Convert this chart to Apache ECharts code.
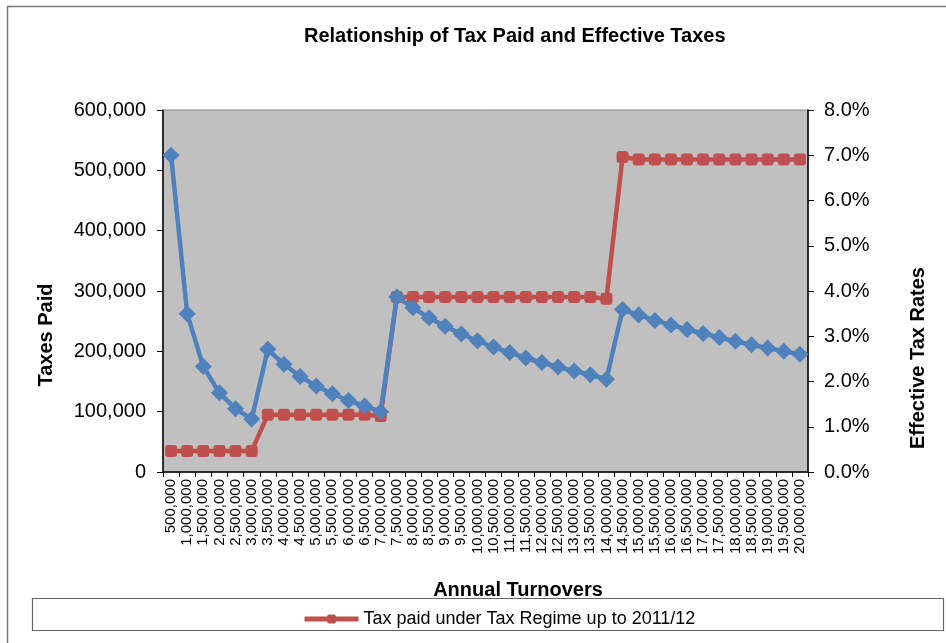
<!DOCTYPE html>
<html>
<head>
<meta charset="utf-8">
<script src="https://cdn.jsdelivr.net/npm/echarts@6/dist/echarts.min.js"></script>
<style>
  html, body { margin: 0; padding: 0; background: #fff; }
  #taxChart { width: 946px; height: 643px; }
</style>
</head>
<body>
<div id="taxChart"></div>
<script>
// turnover bands (x axis)
var turnovers = [
  '500,000', '1,000,000', '1,500,000', '2,000,000', '2,500,000', '3,000,000',
  '3,500,000', '4,000,000', '4,500,000', '5,000,000', '5,500,000', '6,000,000',
  '6,500,000', '7,000,000', '7,500,000', '8,000,000', '8,500,000', '9,000,000',
  '9,500,000', '10,000,000', '10,500,000', '11,000,000', '11,500,000', '12,000,000',
  '12,500,000', '13,000,000', '13,500,000', '14,000,000', '14,500,000', '15,000,000',
  '15,500,000', '16,000,000', '16,500,000', '17,000,000', '17,500,000', '18,000,000',
  '18,500,000', '19,000,000', '19,500,000', '20,000,000'
];
// taxes paid (left axis)
var taxPaid = [
  35000, 35000, 35000, 35000, 35000, 35000,
  95000, 95000, 95000, 95000, 95000, 95000, 95000, 93000,
  290000, 290000, 290000, 290000, 290000, 290000, 290000,
  290000, 290000, 290000, 290000, 290000, 290000, 287000,
  522000, 518000, 518000, 518000, 518000, 518000,
  518000, 518000, 518000, 518000, 518000, 518000
];
// effective tax rate in % (right axis)
var effRate = [
  7.0, 3.5, 2.33, 1.75, 1.4, 1.17,
  2.71, 2.38, 2.11, 1.9, 1.73, 1.58, 1.46, 1.33,
  3.87, 3.63, 3.41, 3.22, 3.05, 2.9, 2.76,
  2.64, 2.52, 2.42, 2.32, 2.23, 2.15, 2.05,
  3.59, 3.47, 3.35, 3.25, 3.15, 3.06,
  2.97, 2.89, 2.81, 2.74, 2.67, 2.6
];
var leftTicks = { min: 0, max: 600000, interval: 100000 };
var rightTicks = { min: 0, max: 8, interval: 1 };

var font = 'Liberation Sans, Arial, sans-serif';
var chart = echarts.init(document.getElementById('taxChart'));

var nameStyle = { fill: '#000', fontSize: 20, fontWeight: 'bold', fontFamily: font,
  align: 'center', verticalAlign: 'middle' };

var options = {
  animation: false,
  textStyle: { fontFamily: font },
  title: {
    text: 'Relationship of Tax Paid and Effective Taxes',
    left: 299,
    top: 21,
    textStyle: { fontSize: 20, fontWeight: 'bold', color: '#000', fontFamily: font }
  },
  graphic: [
    // outer chart frame
    { type: 'rect', shape: { x: 7.5, y: 6.5, width: 950, height: 650 },
      style: { fill: 'none', stroke: '#777', lineWidth: 1.5 }, silent: true },
    // legend frame
    { type: 'rect', shape: { x: 32.5, y: 598.5, width: 911, height: 32 },
      style: { fill: 'none', stroke: '#666', lineWidth: 1.2 }, silent: true },
    // axis titles
    { type: 'text', x: 518, y: 590, style: Object.assign({ text: 'Annual Turnovers' }, nameStyle), silent: true },
    { type: 'text', x: 46, y: 335, rotation: Math.PI / 2,
      style: Object.assign({ text: 'Taxes Paid' }, nameStyle), silent: true },
    { type: 'text', x: 918, y: 358, rotation: Math.PI / 2,
      style: Object.assign({ text: 'Effective Tax Rates' }, nameStyle), silent: true }
  ],
  legend: {
    data: ['Tax paid under Tax Regime up to 2011/12'],
    left: 297,
    top: 605,
    itemWidth: 54,
    itemHeight: 11,
    itemGap: 4,
    lineStyle: { width: 5 },
    textStyle: { fontSize: 18, color: '#000', fontFamily: font }
  },
  grid: {
    left: 163,
    right: 138,
    top: 110,
    bottom: 171,
    show: true,
    backgroundColor: '#C0C0C0',
    borderColor: '#888',
    borderWidth: 1
  },
  xAxis: {
    type: 'category',
    data: turnovers,
    boundaryGap: true,
    axisLine: { lineStyle: { color: '#000', width: 1.5 } },
    axisTick: { show: true, length: 5, lineStyle: { color: '#000' } },
    axisLabel: { rotate: 90, interval: 0, fontSize: 15, color: '#000', margin: 7 }
  },
  yAxis: [
    {
      type: 'value',
      min: leftTicks.min,
      max: leftTicks.max,
      interval: leftTicks.interval,
      axisLine: { show: true, lineStyle: { color: '#000', width: 1.5 } },
      axisTick: { show: true, length: 6, lineStyle: { color: '#000' } },
      splitLine: { show: false },
      axisLabel: {
        fontSize: 20,
        color: '#000',
        margin: 17,
        formatter: function (v) { return v.toLocaleString('en-US'); }
      }
    },
    {
      type: 'value',
      min: rightTicks.min,
      max: rightTicks.max,
      interval: rightTicks.interval,
      axisLine: { show: true, lineStyle: { color: '#000', width: 1.5 } },
      axisTick: { show: true, length: 6, lineStyle: { color: '#000' } },
      splitLine: { show: false },
      axisLabel: {
        fontSize: 20,
        color: '#000',
        margin: 16,
        formatter: function (v) { return v.toFixed(1) + '%'; }
      }
    }
  ],
  series: [
    {
      name: 'Tax paid under Tax Regime up to 2011/12',
      type: 'line',
      yAxisIndex: 0,
      data: taxPaid,
      symbol: 'roundRect',
      symbolSize: 12,
      itemStyle: { color: '#C0504D' },
      lineStyle: { color: '#C0504D', width: 4.5 },
      z: 2
    },
    {
      name: 'Effective Tax Rate',
      type: 'line',
      yAxisIndex: 1,
      data: effRate,
      symbol: 'diamond',
      symbolSize: 17,
      itemStyle: { color: '#4F81BD' },
      lineStyle: { color: '#4F81BD', width: 4.5 },
      z: 3
    }
  ]
};

chart.setOption(options);
</script>
</body>
</html>
